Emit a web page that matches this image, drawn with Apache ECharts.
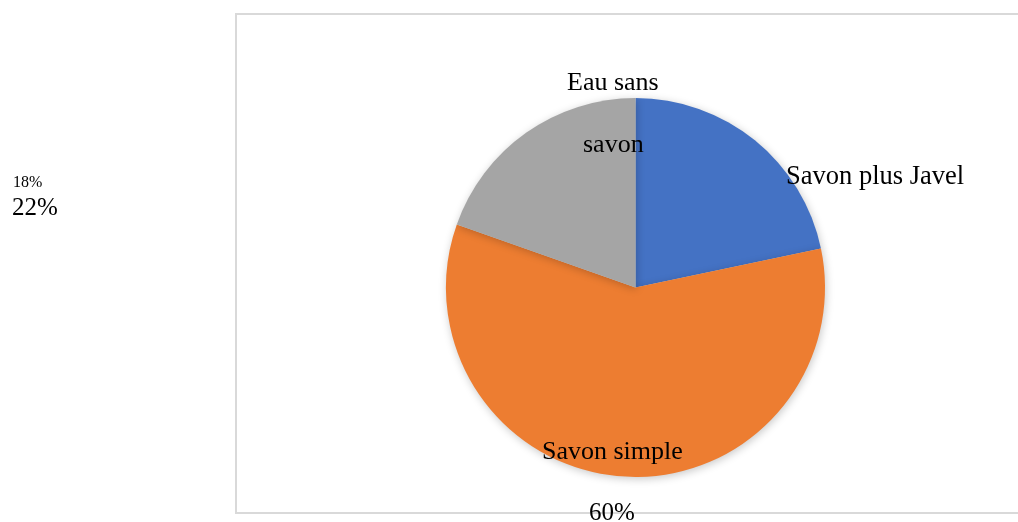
<!DOCTYPE html>
<html>
<head>
<meta charset="utf-8">
<script src="https://cdn.jsdelivr.net/npm/echarts@6/dist/echarts.min.js"></script>
<style>
  html, body { margin: 0; padding: 0; background: #fff; }
  #chart { width: 1018px; height: 522px; }
</style>
</head>
<body>
<div id="chart"></div>
<script>
var categories = ["Savon plus Javel", "Savon simple", "Eau sans savon"];
// slice sizes as drawn in the picture (printed labels say 22 / 60 / 18)
var values = [21.7, 58.7, 19.6];
var colors = ["#4472C4", "#ED7D31", "#A5A5A5"];
var percentLabels = ["22%", "60%", "18%"];

var FONT = "'Liberation Serif', 'Times New Roman', serif";
var myChart = echarts.init(document.getElementById("chart"));

function txt(text, x, y, size) {
  return {
    type: "text",
    left: x,
    top: y,
    z: 100,
    style: {
      text: text,
      font: size + "px " + FONT,
      fill: "#000"
    }
  };
}

var option = {
  backgroundColor: "#fff",
  animation: false,
  graphic: [
    {
      type: "rect",
      z: -1,
      shape: { x: 236, y: 14, width: 800, height: 499 },
      style: { fill: "none", stroke: "#d9d9d9", lineWidth: 2 }
    },
    // text on the pie, placed as in the picture
    txt("Eau sans", 567, 70, 26),
    txt("savon", 583, 132, 26),
    txt(categories[0], 786, 164, 26.5),
    txt("Savon simple", 542, 439, 26),
    txt(percentLabels[1], 589, 501, 25),
    txt(percentLabels[2], 13, 175, 16),
    txt(percentLabels[0], 12, 196, 25)
  ],
  series: [
    {
      type: "pie",
      center: [635.5, 287.5],
      radius: 189.5,
      startAngle: 90,
      clockwise: true,
      label: { show: false },
      labelLine: { show: false },
      emphasis: { disabled: true },
      itemStyle: {
        borderWidth: 0,
        shadowBlur: 8,
        shadowColor: "rgba(0,0,0,0.22)",
        shadowOffsetX: 1,
        shadowOffsetY: 2
      },
      data: categories.map(function (name, i) {
        return { name: name, value: values[i], itemStyle: { color: colors[i] } };
      })
    }
  ]
};
myChart.setOption(option);
</script>
</body>
</html>
